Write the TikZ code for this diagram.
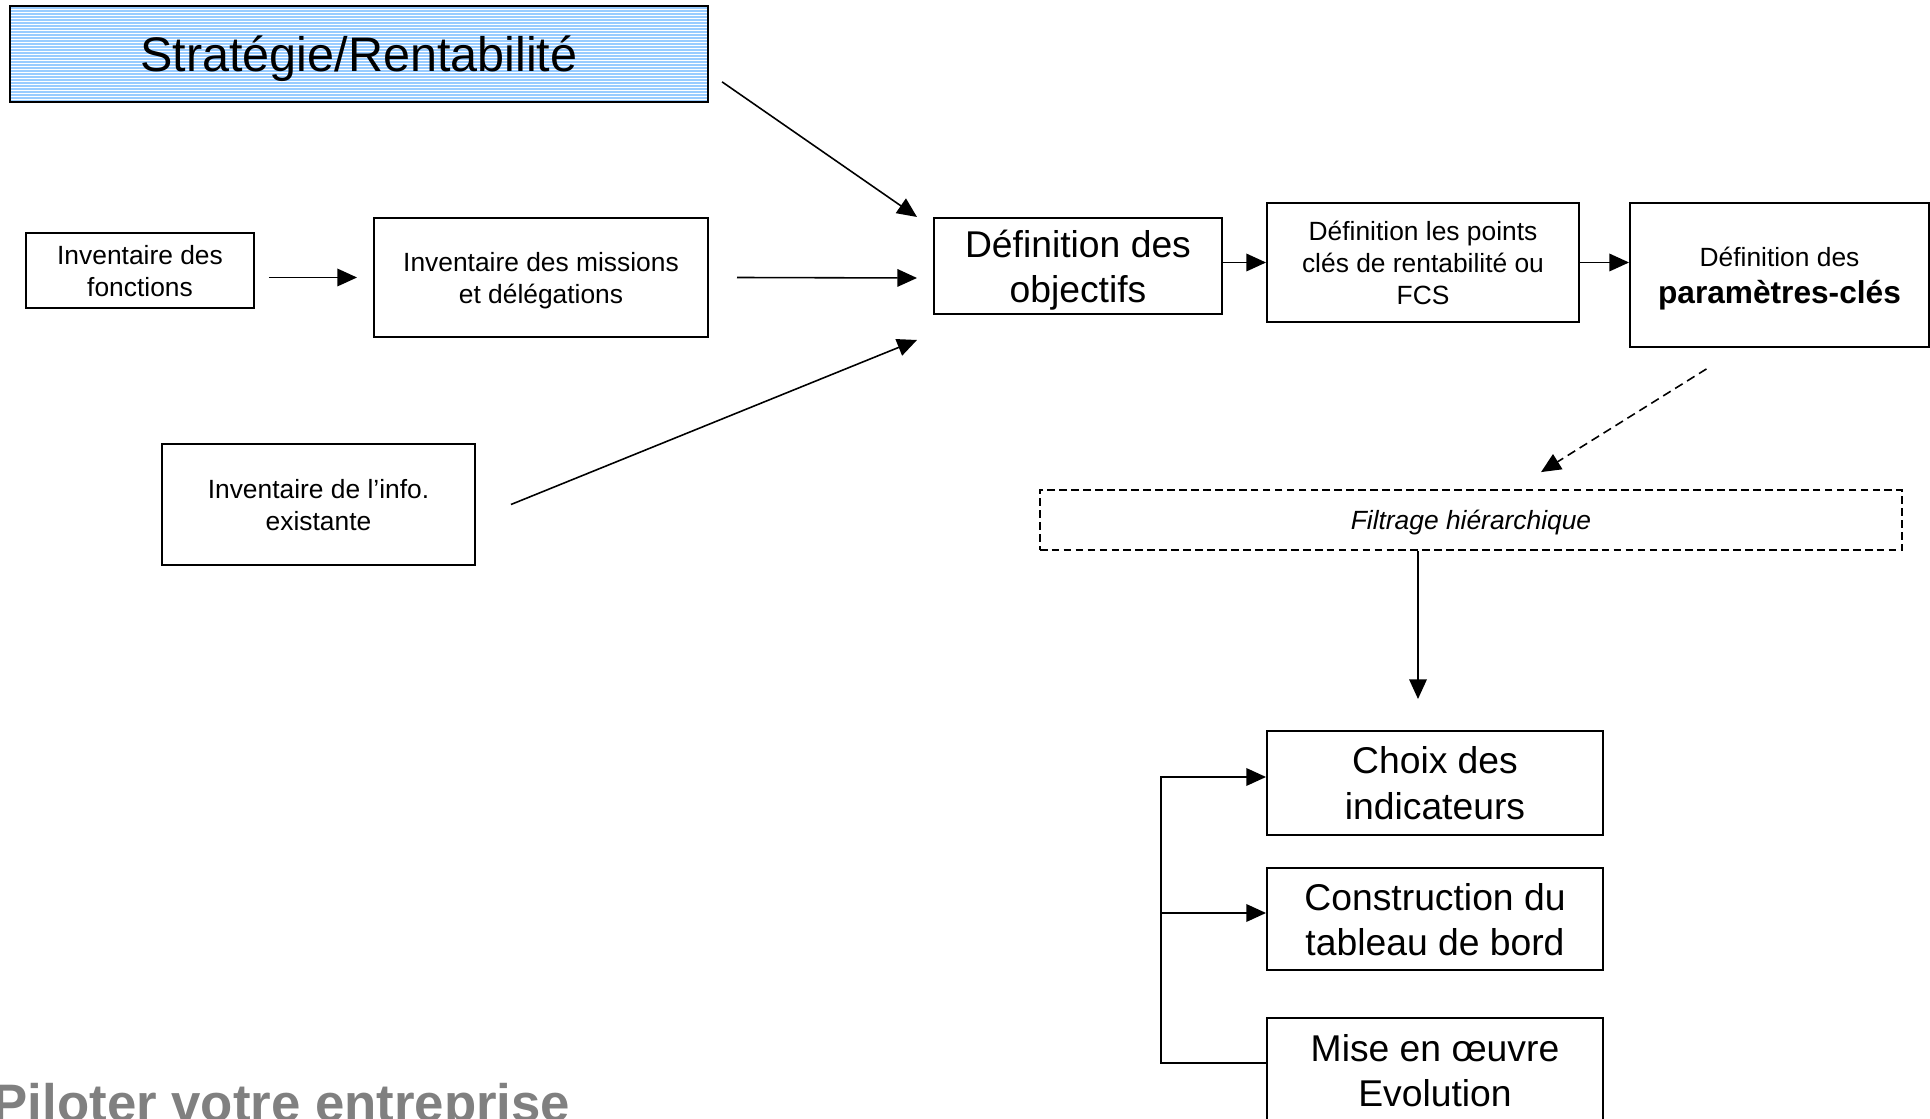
\documentclass[tikz,border=0pt]{standalone}
\usepackage{fontspec}
\setmainfont{Liberation Sans}
\usetikzlibrary{arrows.meta}
\definecolor{stratblue}{HTML}{99CCFF}
\definecolor{titlegray}{HTML}{808080}

\begin{document}
\begin{tikzpicture}[x=0.01cm, y=-0.01cm,
  box/.style={draw, line width=0.5pt, align=center, inner sep=0pt, text depth=0pt},
  small/.style={font=\fontsize{7.5}{9.1}\selectfont},
  big/.style={font=\fontsize{10.6}{12.8}\selectfont},
  arr/.style={-{Triangle[length=5.6pt,width=5pt]}, line width=0.45pt},
  stripes/.style={path picture={
      \foreach \k in {1,...,33}
        \draw[white, line width=0.2pt]
          ([yshift={-\k*0.03cm}]path picture bounding box.north west) --
          ([yshift={-\k*0.03cm}]path picture bounding box.north east);}}]
\useasboundingbox (0,0) rectangle (1930,1119);

% Strategy banner
\node[box, fill=stratblue, stripes, minimum width=6.98cm, minimum height=0.96cm,
      font=\fontsize{13.8}{16}\selectfont] (strat) at (359,54) {Stratégie/Rentabilité};

% Inventories
\node[box, small, minimum width=2.28cm, minimum height=0.75cm] (fonctions) at (140,270.5)
  {Inventaire des\\fonctions};
\node[box, small, minimum width=3.34cm, minimum height=1.19cm] (missions) at (541,277.5)
  {Inventaire des missions\\et délégations};
\node[box, small, minimum width=3.13cm, minimum height=1.21cm] (info) at (318.5,504.5)
  {Inventaire de l’info.\\existante};

% Definition chain
\node[box, big, minimum width=2.88cm, minimum height=0.96cm] (objectifs) at (1078,266)
  {Définition des\\objectifs};
\node[box, small, minimum width=3.12cm, minimum height=1.19cm] (points) at (1423,262.5)
  {Définition les points\\clés de rentabilité ou\\FCS};
\node[box, font=\fontsize{7.5}{10.5}\selectfont, minimum width=2.99cm, minimum height=1.44cm]
  (params) at (1779.5,275)
  {Définition des\\{\fontsize{9}{10.5}\selectfont\bfseries paramètres-clés}};

% Filter
\node[box, dash pattern=on 2.2pt off 1.2pt, font=\fontsize{7.5}{9}\selectfont\itshape,
      minimum width=8.62cm, minimum height=0.6cm] (filtrage) at (1471,520)
  {Filtrage hiérarchique};

% Dashboard steps
\node[box, big, minimum width=3.36cm, minimum height=1.04cm] (choix) at (1435,783)
  {Choix des\\indicateurs};
\node[box, big, minimum width=3.36cm, minimum height=1.02cm] (constr) at (1435,919)
  {Construction du\\tableau de bord};
\node[box, big, minimum width=3.36cm, minimum height=1.04cm] (mise) at (1435,1070)
  {Mise en œuvre\\Evolution};

% Title
\node[anchor=base west, inner sep=0pt, text=titlegray,
      font=\fontsize{15}{18}\selectfont\bfseries] (titre) at (-8,1121)
  {Piloter votre entreprise};

% Arrows into objectives
\coordinate (in1) at (917,217);
\coordinate (in2) at (917,278);
\coordinate (in3) at (917,340);
\draw[arr] ([xshift=0.13cm,yshift=0.21cm]strat.south east) -- (in1);
\draw[arr] ([xshift=0.28cm]missions.east) -- (in2);
\draw[arr] ([xshift=0.35cm]info.east) -- (in3);
\draw[arr, shorten <=0.14cm, shorten >=0.16cm] (fonctions.east |- missions) -- (missions.west);

% Chain arrows
\draw[arr] (objectifs.east |- points) -- (points.west);
\draw[arr] (points.east) -- (points.east -| params.west);
\draw[arr, dash pattern=on 2.5pt off 1.5pt]
  ([xshift=-0.73cm,yshift=-0.21cm]params.south) -- ([xshift=0.7cm,yshift=0.17cm]filtrage.north);

% Down to the steps
\coordinate (dn) at (1418,699);
\draw[arr] (filtrage.south -| dn) -- (dn);
\coordinate (bkt) at (1161,777);
\coordinate (bkm) at (1161,913);
\coordinate (bkb) at (1161,1063);
\draw[arr] (bkb -| mise.west) -- (bkb) -- (bkt) -- (bkt -| choix.west);
\draw[arr] (bkm) -- (bkm -| constr.west);
\end{tikzpicture}
\end{document}
